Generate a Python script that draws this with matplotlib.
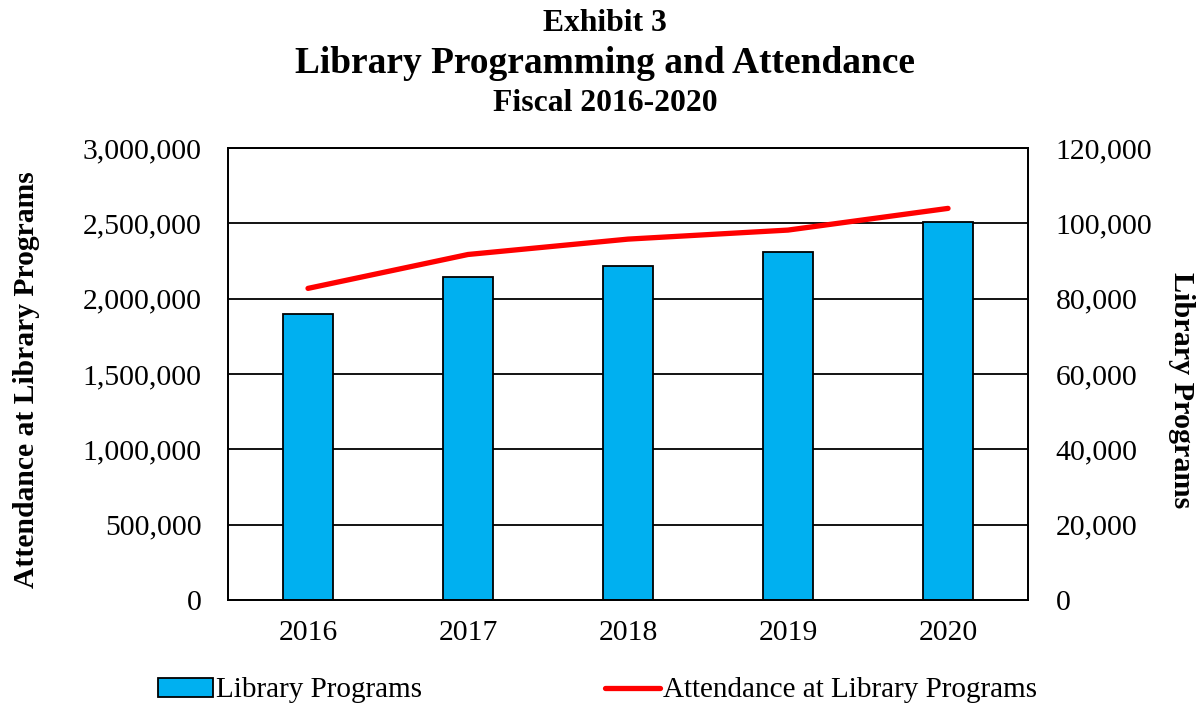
import matplotlib
matplotlib.use("Agg")
import matplotlib.pyplot as plt
from matplotlib.ticker import FuncFormatter
import numpy as np

years = ["2016", "2017", "2018", "2019", "2020"]
programs = [75900, 85900, 88700, 92500, 100400]
attendance = [2069000, 2294000, 2396000, 2456000, 2600000]

plt.rcParams['font.family'] = ['Liberation Serif', 'DejaVu Serif']

fig = plt.figure(figsize=(12, 7.06), dpi=100)
ax = fig.add_axes([0.19, 0.150, 0.6667, 0.6402])
ax2 = ax.twinx()

x = np.arange(len(years))
ax2.bar(x, programs, width=0.31, color="#00B0F0", edgecolor="black", linewidth=1.3,
        label="Library Programs", zorder=2)
ax2.set_ylim(0, 120000)
ax2.set_yticks(np.arange(0, 120001, 20000))
ax2.yaxis.set_major_formatter(FuncFormatter(lambda v, p: f"{int(v):,}"))

ax.set_ylim(0, 3000000)
ax.set_yticks(np.arange(0, 3000001, 500000))
ax.yaxis.set_major_formatter(FuncFormatter(lambda v, p: f"{int(v):,}"))
ax.set_xlim(-0.5, 4.5)
ax.set_xticks(x)
ax.set_xticklabels(years)

# grid lines (left-axis ticks) drawn behind the bars
for v in ax2.get_yticks()[1:]:
    ax2.axhline(v, color="black", linewidth=1.3, zorder=1)

ax.set_zorder(ax2.get_zorder() + 1)
ax.patch.set_visible(False)
ax.plot(x, attendance, color="#FF0000", linewidth=3.8, solid_capstyle="round",
        label="Attendance at Library Programs", zorder=3)

for a in (ax, ax2):
    for s in a.spines.values():
        s.set_color("black")
        s.set_linewidth(1.3)
    a.tick_params(length=0, labelsize=21.4, colors="black")
ax.tick_params(axis="y", pad=19)
ax2.tick_params(axis="y", pad=20)
ax.tick_params(axis="x", pad=14)

fig.text(0.0225, 0.4618, "Attendance at Library Programs", rotation=90, fontsize=21.3,
         fontweight="bold", ha="center", va="center")
fig.text(0.9846, 0.4476, "Library Programs", rotation=-90, fontsize=21.7,
         fontweight="bold", ha="center", va="center")

fig.text(0.5042, 0.9565, "Exhibit 3", fontsize=22.8, fontweight="bold", ha="center", va="baseline")
fig.text(0.5042, 0.896, "Library Programming and Attendance", fontsize=26.9,
         fontweight="bold", ha="center", va="baseline")
fig.text(0.5042, 0.8428, "Fiscal 2016-2020", fontsize=22.8, fontweight="bold",
         ha="center", va="baseline")

h1, l1 = ax2.get_legend_handles_labels()
h2, l2 = ax.get_legend_handles_labels()
fig.legend(h1 + h2, l1 + l2, loc="center", bbox_to_anchor=(0.498, 0.022), ncol=2,
           frameon=False, fontsize=21, columnspacing=6.3, handlelength=1.88,
           handletextpad=0.1, handleheight=0.62, borderpad=0, borderaxespad=0)

fig.savefig("out.png", dpi=100)
